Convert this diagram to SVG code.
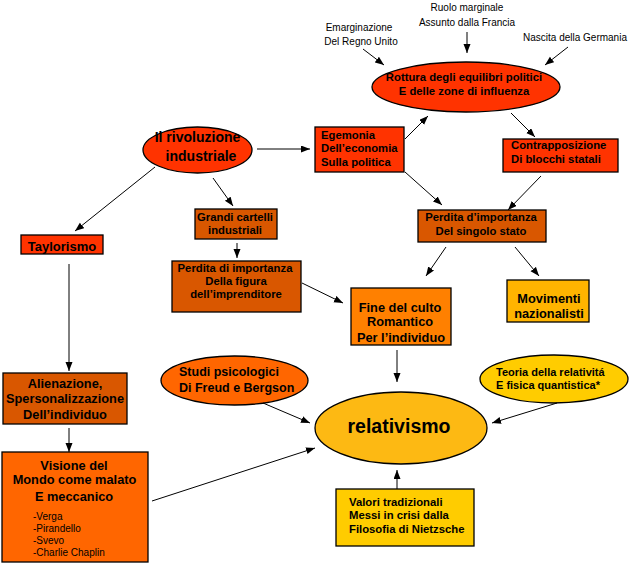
<svg xmlns="http://www.w3.org/2000/svg" width="638" height="572" viewBox="0 0 638 572">
<defs>
<marker id="ah" markerUnits="userSpaceOnUse" markerWidth="10" markerHeight="8" refX="9" refY="3.5" orient="auto">
<path d="M0,0 L9,3.5 L0,7 z" fill="#000"/>
</marker>
<style>
.b{font-family:"Liberation Sans",Arial,sans-serif;font-weight:bold;fill:#000}
.r{font-family:"Liberation Sans",Arial,sans-serif;font-weight:normal;fill:#000;font-size:10px}
.m{text-anchor:middle}
.s11{font-size:11.3px}
.s13{font-size:12.8px}
.nd{stroke:#000;stroke-width:1.3}
.cn line{stroke:#000;stroke-width:1;marker-end:url(#ah)}
</style>
</defs>
<rect width="638" height="572" fill="#fff"/>

<g id="labels-top">
<text class="r m" x="359" y="31">Emarginazione</text>
<text class="r m" x="361" y="45">Del Regno Unito</text>
<text class="r m" x="467" y="11">Ruolo marginale</text>
<text class="r m" x="467" y="26">Assunto dalla Francia</text>
<text class="r m" x="575" y="41">Nascita della Germania</text>
</g>

<g id="rottura">
<ellipse class="nd" cx="466" cy="87" rx="94" ry="25" fill="#FF3300"/>
<text class="b m s11" x="464" y="81">Rottura degli equilibri politici</text>
<text class="b m s11" x="464" y="95">E delle zone di influenza</text>
</g>

<g id="rivoluzione">
<ellipse class="nd" cx="197.5" cy="150" rx="54.5" ry="23" fill="#FF3300"/>
<text class="b m" x="197.5" y="142" font-size="14">Il rivoluzione</text>
<text class="b m" x="201" y="161" font-size="14">industriale</text>
</g>

<g id="egemonia">
<rect class="nd" x="315" y="127" width="89" height="45" fill="#FF3300"/>
<text class="b s11" x="321" y="139">Egemonia</text>
<text class="b s11" x="321" y="152">Dell’economia</text>
<text class="b s11" x="321" y="166">Sulla politica</text>
</g>

<g id="contrapposizione">
<rect class="nd" x="503" y="139" width="115" height="33" fill="#FF3300"/>
<text class="b s11" x="511" y="149">Contrapposizione</text>
<text class="b s11" x="511" y="163">Di blocchi statali</text>
</g>

<g id="taylorismo">
<rect class="nd" x="21" y="235" width="82" height="19" fill="#FF3300"/>
<text class="b m" x="62" y="251" font-size="13">Taylorismo</text>
</g>

<g id="grandi-cartelli">
<rect class="nd" x="195" y="209" width="82" height="30" fill="#D95700"/>
<text class="b m s11" x="235" y="221">Grandi cartelli</text>
<text class="b m s11" x="235" y="234">industriali</text>
</g>

<g id="perdita-imprenditore">
<rect class="nd" x="172" y="261" width="129" height="51" fill="#D95700"/>
<text class="b m s11" x="235" y="272">Perdita di importanza</text>
<text class="b m s11" x="236" y="285">Della figura</text>
<text class="b m s11" x="236" y="298">dell’imprenditore</text>
</g>

<g id="perdita-stato">
<rect class="nd" x="418" y="210" width="128" height="32" fill="#D95700"/>
<text class="b m s11" x="481" y="221">Perdita d’importanza</text>
<text class="b m s11" x="481" y="235">Del singolo stato</text>
</g>

<g id="movimenti">
<rect class="nd" x="507" y="280" width="82" height="42" fill="#FFB400"/>
<text class="b m s13" x="549" y="303">Movimenti</text>
<text class="b m s13" x="549" y="318">nazionalisti</text>
</g>

<g id="fine-culto">
<rect class="nd" x="351" y="288" width="100" height="57" fill="#FF8000"/>
<text class="b m s13" x="400" y="312">Fine del culto</text>
<text class="b m s13" x="400" y="326">Romantico</text>
<text class="b m s13" x="401" y="342">Per l’individuo</text>
</g>

<g id="alienazione">
<rect class="nd" x="3" y="373" width="124" height="51" fill="#D95700"/>
<text class="b m s13" x="65" y="388">Alienazione,</text>
<text class="b m s13" x="65" y="403">Spersonalizzazione</text>
<text class="b m s13" x="65" y="419">Dell’individuo</text>
</g>

<g id="visione">
<rect class="nd" x="2" y="452" width="146" height="110" fill="#FF6600"/>
<text class="b m s13" x="74" y="470">Visione del</text>
<text class="b m s13" x="74.5" y="484">Mondo come malato</text>
<text class="b m s13" x="74" y="501">E meccanico</text>
<text class="r" x="33" y="520">-Verga</text>
<text class="r" x="33" y="532">-Pirandello</text>
<text class="r" x="33" y="544">-Svevo</text>
<text class="r" x="33" y="556">-Charlie Chaplin</text>
</g>

<g id="studi">
<ellipse class="nd" cx="234.5" cy="380.5" rx="73.5" ry="24.5" fill="#FF6600"/>
<text class="b" x="179" y="376" font-size="12.5">Studi psicologici</text>
<text class="b" x="179" y="392" font-size="12.5">Di Freud e Bergson</text>
</g>

<g id="relativismo">
<ellipse class="nd" cx="401" cy="428" rx="86" ry="36" fill="#FDB913"/>
<text class="b m" x="399" y="433" font-size="19.5">relativismo</text>
</g>

<g id="teoria">
<ellipse class="nd" cx="554" cy="379" rx="74" ry="24" fill="#FFCC00"/>
<text class="b" x="496" y="376" font-size="11">Teoria della relativitá</text>
<text class="b" x="496" y="389" font-size="11">E fisica quantistica*</text>
</g>

<g id="valori">
<rect class="nd" x="336" y="489" width="138" height="57" fill="#FFCC00"/>
<text class="b s11" x="349" y="506">Valori tradizionali</text>
<text class="b s11" x="349" y="519">Messi in crisi dalla</text>
<text class="b s11" x="349" y="533">Filosofia di Nietzsche</text>
</g>

<g id="connectors" class="cn">
<line x1="363" y1="49" x2="384" y2="65"/>
<line x1="467" y1="32" x2="467" y2="53"/>
<line x1="568" y1="47" x2="545" y2="65"/>
<line x1="257" y1="149" x2="310" y2="149"/>
<line x1="155" y1="167" x2="75" y2="231"/>
<line x1="213" y1="178" x2="233" y2="206"/>
<line x1="405" y1="139" x2="428" y2="116"/>
<line x1="511" y1="113" x2="535" y2="137"/>
<line x1="405" y1="172" x2="442" y2="205"/>
<line x1="541" y1="176" x2="508" y2="210"/>
<line x1="237" y1="243" x2="237" y2="258"/>
<line x1="446" y1="247" x2="426" y2="276"/>
<line x1="515" y1="247" x2="539" y2="276"/>
<line x1="302" y1="283" x2="343" y2="303"/>
<line x1="69" y1="264" x2="69" y2="371"/>
<line x1="69" y1="428" x2="69" y2="452"/>
<line x1="152" y1="501" x2="315" y2="448"/>
<line x1="263" y1="403" x2="310" y2="423"/>
<line x1="397" y1="350" x2="397" y2="382"/>
<line x1="557" y1="403" x2="492" y2="423"/>
<line x1="397" y1="489" x2="397" y2="470"/>
</g>
</svg>
